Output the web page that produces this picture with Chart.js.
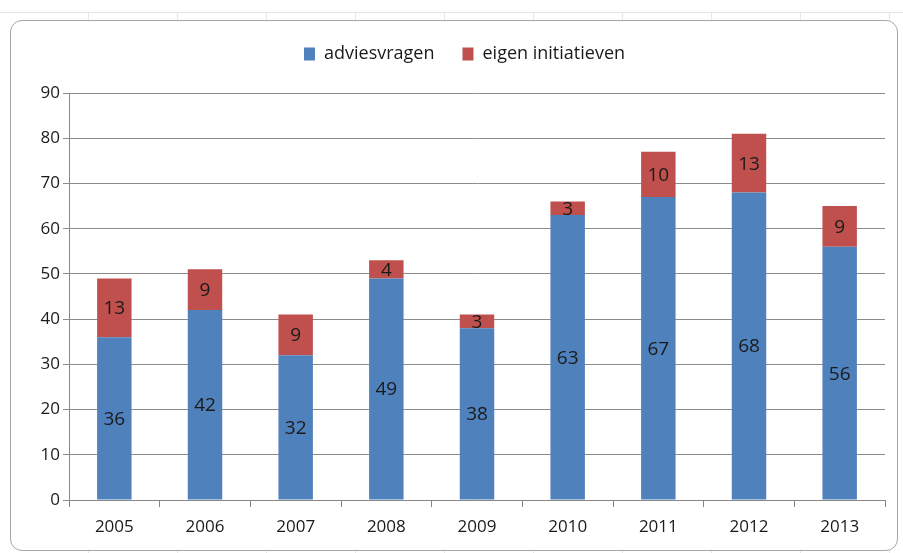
<!DOCTYPE html>
<html>
<head>
<meta charset="utf-8">
<script src="https://cdn.jsdelivr.net/npm/chart.js@4.4.0/dist/chart.umd.min.js"></script>
<style>
    html, body { margin: 0; padding: 0; width: 903px; height: 553px; overflow: hidden; background: #fff; }
    /* achtergrond van het werkblad */
    .sheet {
        position: absolute; left: 0; top: 0; width: 903px; height: 553px;
        background:
            linear-gradient(#fff 0, #fff 12px, #e4e4e4 12px, #e4e4e4 13px, transparent 13px),
            repeating-linear-gradient(90deg, transparent 0, transparent 88px, #e6e6e6 88px, #e6e6e6 89px);
    }
    .box {
        position: absolute; left: 10px; top: 20px; width: 886px; height: 529px;
        border: 1px solid #a6a6a6; border-radius: 12px; background: #fff;
    }
    #wrap { position: absolute; left: 0; top: 0; width: 903px; height: 553px; }
</style>
</head>
<body>
<div class="sheet"></div>
<div class="box"></div>
<div id="wrap"><canvas id="chart"></canvas></div>
<script>
// Gegevens
const jaren = ['2005', '2006', '2007', '2008', '2009', '2010', '2011', '2012', '2013'];
const adviesvragen = [36, 42, 32, 49, 38, 63, 67, 68, 56];
const eigenInitiatieven = [13, 9, 9, 4, 3, 3, 10, 13, 9];

const fontFamily = "'Open Sans', 'Liberation Sans', sans-serif";

// Plugin om de waarden in de staven te tekenen
const waardeLabels = {
    id: 'waardeLabels',
    afterDatasetsDraw(chart) {
        const ctx = chart.ctx;
        ctx.save();
        ctx.font = '19px ' + fontFamily;
        ctx.fillStyle = '#1a1a1a';
        ctx.textAlign = 'center';
        ctx.textBaseline = 'middle';
        chart.data.datasets.forEach((ds, i) => {
            const meta = chart.getDatasetMeta(i);
            meta.data.forEach((bar, j) => {
                const midden = (bar.y + bar.base) / 2;
                ctx.fillText(ds.data[j], bar.x, midden + 1);
            });
        });
        ctx.restore();
    }
};

// Extra ruimte onder de legenda, en legenda iets naar rechts
const legendaRuimte = {
    id: 'legendaRuimte',
    beforeInit(chart) {
        const origFit = chart.legend.fit;
        chart.legend.fit = function() {
            origFit.bind(chart.legend)();
            this.height += 20;
        };
    },
    afterLayout(chart) {
        chart.legend.left += 22;
        chart.legend.right += 22;
    }
};

const ctx = document.getElementById('chart').getContext('2d');
new Chart(ctx, {
    type: 'bar',
    data: {
        labels: jaren,
        datasets: [{
            label: 'adviesvragen',
            data: adviesvragen,
            backgroundColor: '#4F81BD',
            barPercentage: 0.38,
            categoryPercentage: 1
        }, {
            label: 'eigen initiatieven',
            data: eigenInitiatieven,
            backgroundColor: '#C0504D',
            barPercentage: 0.38,
            categoryPercentage: 1
        }]
    },
    options: {
        responsive: true,
        maintainAspectRatio: false,
        animation: false,
        layout: { padding: { top: 17, left: 0, right: 18, bottom: 0 } },
        plugins: {
            legend: {
                position: 'top',
                labels: {
                    boxWidth: 11,
                    boxHeight: 13,
                    padding: 28,
                    color: '#1a1a1a',
                    font: { size: 18, family: fontFamily }
                }
            },
            tooltip: { enabled: false }
        },
        scales: {
            x: {
                stacked: true,
                afterFit: (s) => { s.height = 53; },
                grid: {
                    offset: true,
                    drawOnChartArea: false,
                    drawTicks: true,
                    tickLength: 7,
                    color: '#888'
                },
                border: { color: '#888' },
                ticks: {
                    color: '#1a1a1a',
                    padding: 10,
                    font: { size: 17, family: fontFamily }
                }
            },
            y: {
                stacked: true,
                min: 0,
                max: 90,
                afterFit: (s) => { s.width = 69; },
                ticks: {
                    stepSize: 10,
                    color: '#1a1a1a',
                    padding: 3,
                    font: { size: 17, family: fontFamily }
                },
                grid: {
                    color: '#8c8c8c',
                    tickLength: 6
                },
                border: { color: '#888' }
            }
        }
    },
    plugins: [waardeLabels, legendaRuimte]
});
</script>
</body>
</html>
